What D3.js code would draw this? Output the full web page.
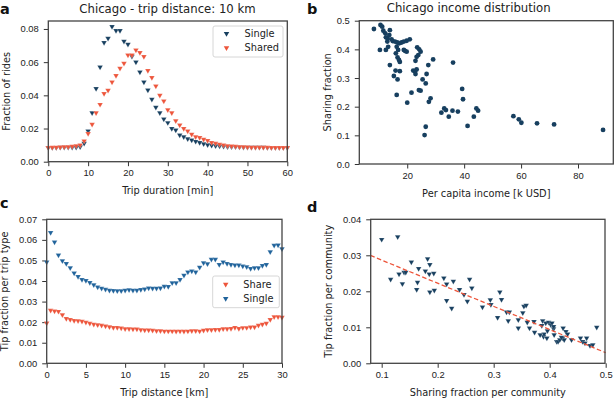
<!DOCTYPE html>
<html><head><meta charset="utf-8">
<script src="https://cdn.jsdelivr.net/npm/d3@7"></script>
<style>
body{margin:0;background:#fff;}
svg{display:block;font-family:"DejaVu Sans",sans-serif;}
.tick text{font-size:9.4px;fill:#222;}
.tick line{stroke:#333;}
.domain{display:none;}
</style></head><body>
<svg id="c" width="615" height="398"></svg>
<script>
// ---------- Panel a data ----------
const durMinutes = d3.range(0, 61);
const singleDur = [0.0085,0.0085,0.0085,0.0086,0.0086,0.0087,0.0087,0.0087,0.0090,0.0110,
  0.0185,0.0295,0.0440,0.0570,0.0718,0.0744,0.0814,0.0790,0.0790,0.0726,
  0.0708,0.0635,0.0600,0.0540,0.0480,0.0432,0.0376,0.0328,0.0295,0.0257,
  0.0235,0.0200,0.0190,0.0160,0.0150,0.0138,0.0130,0.0122,0.0115,0.0107,
  0.0102,0.0098,0.0096,0.0094,0.0092,0.0090,0.0090,0.0089,0.0088,0.0087,
  0.0087,0.0086,0.0086,0.0086,0.0086,0.0085,0.0085,0.0085,0.0085,0.0085,0.0085];
const sharedDur = [0.0085,0.0086,0.0087,0.0088,0.0089,0.0090,0.0092,0.0095,0.0100,0.0125,
  0.0170,0.0225,0.0295,0.0345,0.0410,0.0430,0.0480,0.0519,0.0563,0.0593,
  0.0643,0.0643,0.0673,0.0657,0.0633,0.0549,0.0507,0.0456,0.0400,0.0366,
  0.0312,0.0295,0.0247,0.0220,0.0200,0.0185,0.0165,0.0150,0.0145,0.0135,
  0.0127,0.0115,0.0110,0.0105,0.0100,0.0096,0.0094,0.0092,0.0090,0.0089,
  0.0088,0.0087,0.0087,0.0086,0.0086,0.0086,0.0085,0.0085,0.0085,0.0085,0.0085];
const ticksA_x = [0,10,20,30,40,50,60];
const ticksA_y = [0,0.02,0.04,0.06,0.08];

// ---------- Panel b data ----------
const incomeK = [8.3,10.6,11.2,11.6,12.3,13.9,12.5,13.0,10.4,12.5,13.3,14.9,15.7,16.5,17.2,18.0,18.8,19.8,20.9,16.3,
  16.8,19.2,19.8,18.8,16.0,16.6,17.1,17.4,13.9,15.9,17.4,15.3,16.6,16.3,20.0,21.5,23.5,24.2,24.7,23.9,
  23.3,22.9,23.3,22.7,22.1,22.9,24.1,24.7,25.4,26.5,26.8,27.4,29.1,28.2,27.6,26.5,26.1,32.0,33.0,33.6,
  34.6,35.9,36.1,37.8,39.3,39.6,41.2,43.4,44.3,44.9,57.3,59.2,60.1,65.6,71.6,88.8,13.1,14.5,13.7];
const sharingFrac = [0.471,0.485,0.479,0.465,0.456,0.467,0.442,0.427,0.398,0.398,0.409,0.429,0.427,0.424,0.421,0.424,0.427,0.430,0.435,0.409,
  0.398,0.395,0.392,0.398,0.386,0.372,0.363,0.356,0.345,0.326,0.324,0.307,0.295,0.241,0.214,0.249,0.407,0.400,0.392,0.380,
  0.374,0.360,0.330,0.324,0.326,0.314,0.258,0.256,0.295,0.281,0.314,0.345,0.365,0.229,0.217,0.130,0.101,0.179,0.194,0.188,
  0.165,0.186,0.354,0.183,0.262,0.226,0.133,0.165,0.194,0.186,0.167,0.156,0.144,0.142,0.138,0.119,0.438,0.435,0.450];
const ticksB_x = [20,40,60,80];
const ticksB_y = [0,0.1,0.2,0.3,0.4,0.5];

// ---------- Panel c data ----------
const distKm = d3.range(0, 61).map(i => i * 0.5);
const shareTip = [0.0195,0.0257,0.0254,0.0252,0.0236,0.0217,0.0212,0.0208,0.0207,0.0204,
  0.0199,0.0194,0.0190,0.0187,0.0184,0.0181,0.0177,0.0174,0.0174,0.0171,
  0.0168,0.0168,0.0166,0.0166,0.0163,0.0161,0.0161,0.0160,0.0158,0.0158,
  0.0156,0.0156,0.0156,0.0155,0.0156,0.0155,0.0156,0.0158,0.0158,0.0156,
  0.0160,0.0163,0.0163,0.0164,0.0164,0.0168,0.0168,0.0169,0.0174,0.0169,
  0.0173,0.0173,0.0176,0.0176,0.0184,0.0190,0.0194,0.0212,0.0226,0.0226,0.0223];
const singleTip = [0.0492,0.0635,0.0589,0.0526,0.0498,0.0485,0.0464,0.0438,0.0422,0.0407,
  0.0402,0.0392,0.0381,0.0371,0.0365,0.0360,0.0355,0.0353,0.0352,0.0352,
  0.0355,0.0357,0.0355,0.0355,0.0358,0.0361,0.0366,0.0365,0.0365,0.0366,
  0.0374,0.0373,0.0391,0.0391,0.0407,0.0428,0.0444,0.0448,0.0444,0.0467,
  0.0488,0.0484,0.0505,0.0505,0.0480,0.0492,0.0485,0.0480,0.0477,0.0477,
  0.0472,0.0469,0.0461,0.0464,0.0464,0.0475,0.0480,0.0542,0.0573,0.0575,0.0557];
const ticksC_x = [0,5,10,15,20,25,30];
const ticksC_y = [0,0.01,0.02,0.03,0.04,0.05,0.06,0.07];

// ---------- Panel d data ----------
const commSharing = [0.100,0.1286,0.116,0.131,0.137,0.140,0.143,0.153,0.1625,0.164,0.166,0.178,0.182,0.185,0.186,0.186,0.193,0.194,0.211,0.216,
  0.216,0.225,0.228,0.239,0.247,0.253,0.257,0.261,0.280,0.294,0.295,0.307,0.311,0.314,0.323,0.326,0.328,0.344,0.344,0.352,
  0.354,0.358,0.360,0.364,0.372,0.373,0.3875,0.389,0.390,0.393,0.395,0.396,0.398,0.402,0.404,0.407,0.408,0.4125,0.415,0.418,
  0.423,0.424,0.426,0.429,0.432,0.439,0.455,0.459,0.463,0.466,0.472,0.477,0.484,0.386,0.407,0.421,0.383];
const commTip = [0.0344,0.0351,0.0233,0.0248,0.0221,0.0253,0.0253,0.0281,0.0205,0.0225,0.0263,0.0256,0.0290,0.0248,0.0274,0.0198,0.0250,0.0203,0.0237,0.0220,
  0.0174,0.0153,0.0228,0.0205,0.0191,0.0172,0.0233,0.0209,0.0156,0.0176,0.0163,0.0127,0.0198,0.0177,0.0142,0.0118,0.0142,0.0121,0.0098,0.0140,
  0.0158,0.0161,0.0114,0.0098,0.0116,0.0086,0.0118,0.0074,0.0081,0.0112,0.0070,0.0090,0.0114,0.0107,0.0112,0.0096,0.0079,0.0060,0.0060,0.0065,
  0.0070,0.0098,0.0065,0.0088,0.0081,0.0065,0.0070,0.0060,0.0056,0.0070,0.0049,0.0051,0.0100,0.0105,0.0102,0.0072,0.0079];
const fitLineX = [0.08, 0.5];
const fitSlope = -0.0643, fitIntercept = 0.0351;
const ticksD_x = [0.1,0.2,0.3,0.4,0.5];
const ticksD_y = [0,0.01,0.02,0.03,0.04];

// ---------- styling ----------
const NAVY = "#173f5f", BLUE = "#20639b", RED = "#ed553b";
const svg = d3.select("#c");
const tri = d3.symbol().type(d3.symbolTriangle).size(13);

function frame(g, x0, x1, y0, y1) {
  g.append("rect").attr("x", x0).attr("y", y0).attr("width", x1 - x0).attr("height", y1 - y0)
    .attr("fill", "none").attr("stroke", "#444").attr("stroke-width", 1.3);
}
function axes(x, y, y1, x0, xt, yt, xf, yf) {
  svg.append("g").attr("transform", `translate(0,${y1})`)
    .call(d3.axisBottom(x).tickValues(xt).tickFormat(xf).tickSizeInner(4.5).tickSizeOuter(0).tickPadding(3.5));
  svg.append("g").attr("transform", `translate(${x0},0)`)
    .call(d3.axisLeft(y).tickValues(yt).tickFormat(yf).tickSizeInner(4.5).tickSizeOuter(0).tickPadding(5));
}
function label(x, y, t, rot, size) {
  const e = svg.append("text").attr("font-size", size || 9.8).attr("fill", "#222").attr("text-anchor", "middle").text(t);
  if (rot) e.attr("transform", `translate(${x},${y}) rotate(-90)`); else e.attr("x", x).attr("y", y);
  return e;
}
function letter(x, y, t) {
  svg.append("text").attr("x", x).attr("y", y).attr("font-size", 14.5).attr("font-weight", "bold").attr("fill", "#111").text(t);
}
function triangles(data, x, y, xs, ys, color) {
  svg.append("g").selectAll("path").data(data).join("path")
    .attr("d", tri)
    .attr("transform", i => `translate(${x(xs[i])},${y(ys[i])}) rotate(180)`)
    .attr("fill", color).attr("stroke", "#fff").attr("stroke-width", 0.3).attr("stroke-opacity", 0.6);
}
function legend(bx, by, bw, bh, rows) {
  svg.append("rect").attr("x", bx).attr("y", by).attr("width", bw).attr("height", bh).attr("rx", 2)
    .attr("fill", "#fff").attr("fill-opacity", 0.8).attr("stroke", "#ccc").attr("stroke-width", 0.8);
  rows.forEach(r => {
    svg.append("path").attr("d", tri).attr("transform", `translate(${r.mx},${r.y}) rotate(180)`).attr("fill", r.color);
    svg.append("text").attr("x", r.tx).attr("y", r.y + 3.5).attr("font-size", 9.8).attr("fill", "#222").text(r.text);
  });
}

// ---------- Panel a ----------
{
  const L = 48.3, R = 287.3, T = 21, B = 161.7;
  const x = d3.scaleLinear().domain([0, 60]).range([L, R]);
  const y = d3.scaleLinear().domain([0, 0.0848]).range([B, T]);
  axes(x, y, B, L, ticksA_x, ticksA_y, d3.format("d"), d3.format(".2f"));
  triangles(d3.range(durMinutes.length), x, y, durMinutes, singleDur, NAVY);
  triangles(d3.range(durMinutes.length), x, y, durMinutes, sharedDur, RED);
  frame(svg, L, R, T, B);
  legend(213, 26, 70, 31, [
    {mx: 226.5, tx: 244.5, y: 33.5, color: NAVY, text: "Single"},
    {mx: 226.5, tx: 244.5, y: 47.8, color: RED, text: "Shared"}]);
  label(167.5, 13, "Chicago - trip distance: 10 km", false, 11.7);
  label(L + (R - L) / 2, 194, "Trip duration [min]");
  label(10, (T + B) / 2, "Fraction of rides", true);
  letter(0, 13.5, "a");
}

// ---------- Panel b ----------
{
  const L = 359.3, R = 613.3, T = 20.7, B = 164;
  const x = d3.scaleLinear().domain([3.16, 92.4]).range([L, R]);
  const y = d3.scaleLinear().domain([0, 0.5]).range([B, T]);
  axes(x, y, B, L, ticksB_x, ticksB_y, d3.format("d"), d3.format(".1f"));
  svg.append("g").selectAll("circle").data(d3.range(incomeK.length)).join("circle")
    .attr("cx", i => x(incomeK[i])).attr("cy", i => y(sharingFrac[i])).attr("r", 2.4).attr("fill", NAVY);
  frame(svg, L, R, T, B);
  label(468.7, 12, "Chicago income distribution", false, 11.7);
  label(L + (R - L) / 2, 196.5, "Per capita income [k USD]");
  label(330.5, (T + B) / 2, "Sharing fraction", true);
  letter(307, 14, "b");
}

// ---------- Panel c ----------
{
  const L = 46.7, R = 282, T = 219.3, B = 363.3;
  const x = d3.scaleLinear().domain([0, 30]).range([L, R]);
  const y = d3.scaleLinear().domain([0, 0.07]).range([B, T]);
  axes(x, y, B, L, ticksC_x, ticksC_y, d3.format("d"), d3.format(".2f"));
  triangles(d3.range(distKm.length), x, y, distKm, shareTip, RED);
  triangles(d3.range(distKm.length), x, y, distKm, singleTip, BLUE);
  frame(svg, L, R, T, B);
  legend(212.7, 276, 66.6, 31.7, [
    {mx: 225.7, tx: 243.3, y: 284.3, color: RED, text: "Share"},
    {mx: 225.7, tx: 243.3, y: 298.7, color: BLUE, text: "Single"}]);
  label(L + (R - L) / 2, 395.5, "Trip distance [km]");
  label(8, (T + B) / 2, "Tip fraction per trip type", true);
  letter(0, 208, "c");
}

// ---------- Panel d ----------
{
  const L = 370.7, R = 605, T = 219.3, B = 363.3;
  const x = d3.scaleLinear().domain([0.0804, 0.4988]).range([L, R]);
  const y = d3.scaleLinear().domain([0, 0.04]).range([B, T]);
  axes(x, y, B, L, ticksD_x, ticksD_y, d3.format(".1f"), d3.format(".2f"));
  triangles(d3.range(commSharing.length), x, y, commSharing, commTip, NAVY);
  svg.append("line")
    .attr("x1", x(fitLineX[0])).attr("y1", y(fitIntercept + fitSlope * fitLineX[0]))
    .attr("x2", x(fitLineX[1])).attr("y2", y(fitIntercept + fitSlope * fitLineX[1]))
    .attr("stroke", RED).attr("stroke-width", 1.3).attr("stroke-dasharray", "4.5,2.5");
  frame(svg, L, R, T, B);
  label(L + (R - L) / 2, 395.5, "Sharing fraction per community");
  label(332, (T + B) / 2, "Tip fraction per community", true);
  letter(307, 212, "d");
}
</script></body></html>
